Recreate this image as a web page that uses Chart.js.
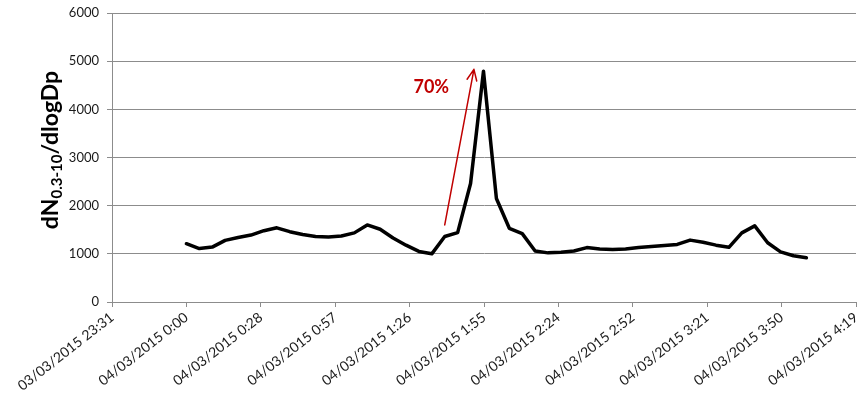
<!DOCTYPE html>
<html>
<head>
<meta charset="utf-8">
<script src="https://cdn.jsdelivr.net/npm/chart.js@4.4.1/dist/chart.umd.min.js"></script>
<style>
  html, body { margin: 0; padding: 0; background: #ffffff; }
  #wrap { width: 858px; height: 399px; }
  canvas { display: block; }
</style>
</head>
<body>
<div id="wrap"><canvas id="chart" width="858" height="399"></canvas></div>
<script>
// Sampling times (04/03/2015), one reading every 5 minutes
const sampleTimes = [
  '0:00','0:05','0:10','0:15','0:20','0:25','0:30','0:35','0:40','0:45',
  '0:50','0:55','1:00','1:05','1:10','1:15','1:20','1:25','1:30','1:35',
  '1:40','1:45','1:50','1:55','2:00','2:05','2:10','2:15','2:20','2:25',
  '2:30','2:35','2:40','2:45','2:50','2:55','3:00','3:05','3:10','3:15',
  '3:20','3:25','3:30','3:35','3:40','3:45','3:50','3:55','4:00'
];

// dN(0.3-10)/dlogDp at each sampling time
const concentration = [
  1210, 1110, 1140, 1280, 1340, 1390, 1480, 1540, 1460, 1400,
  1360, 1350, 1370, 1435, 1600, 1510, 1330, 1180, 1050, 1000,
  1360, 1440, 2460, 4790, 2150, 1530, 1420, 1060, 1020, 1035,
  1060, 1130, 1100, 1090, 1100, 1130, 1150, 1175, 1195, 1285,
  1240, 1180, 1135, 1435, 1580, 1230, 1040, 960, 920
];

// Date-axis labels, one every 0.02 day (28.8 min), starting 28.8 min before midnight
const tickLabels = [
  '03/03/2015 23:31', '04/03/2015 0:00', '04/03/2015 0:28', '04/03/2015 0:57',
  '04/03/2015 1:26', '04/03/2015 1:55', '04/03/2015 2:24', '04/03/2015 2:52',
  '04/03/2015 3:21', '04/03/2015 3:50', '04/03/2015 4:19'
];
const tickStepMinutes = 28.8;
const axisStartMinutes = -28.8;

const yTicks = [0, 1000, 2000, 3000, 4000, 5000, 6000];

// Rise annotation (minutes after midnight, concentration)
const riseArrowFrom = { t: 100, v: 1600 };
const riseArrowTo = { t: 111.3, v: 4830 };
const riseLabel = { t: 94.8, v: 4450, text: '70%' };

const toMinutes = s => { const [h, m] = s.split(':').map(Number); return h * 60 + m; };
const tickMinutes = tickLabels.map((_, i) => axisStartMinutes + i * tickStepMinutes);
const points = sampleTimes.map((t, i) => ({ x: toMinutes(t), y: concentration[i] }));

const FONT = 'Lato, "Open Sans", sans-serif';
const GRID = '#8c8c8c';
const TEXT = '#1a1a1a';

// Vertical axis title with a subscript part
const yTitlePlugin = {
  id: 'yTitle',
  afterDraw(chart) {
    const { ctx } = chart;
    const mainFont = 'bold 23px ' + FONT;
    const subFont = 'bold 15px ' + FONT;
    const parts = [
      { text: 'dN', font: mainFont, dy: 0 },
      { text: '0.3-10', font: subFont, dy: 6 },
      { text: '/dlogDp', font: mainFont, dy: 0 }
    ];
    ctx.save();
    let total = 0;
    parts.forEach(p => { ctx.font = p.font; p.w = ctx.measureText(p.text).width; total += p.w; });
    ctx.translate(51, 150);
    ctx.rotate(-Math.PI / 2);
    ctx.fillStyle = '#000';
    ctx.textBaseline = 'middle';
    ctx.textAlign = 'left';
    let x = -total / 2;
    parts.forEach(p => { ctx.font = p.font; ctx.fillText(p.text, x, p.dy); x += p.w; });
    ctx.restore();
  }
};

// Red arrow marking the rise to the peak, plus its percentage label
const riseArrowPlugin = {
  id: 'riseArrow',
  afterDatasetsDraw(chart) {
    const { ctx, scales: { x, y } } = chart;
    const x0 = x.getPixelForValue(riseArrowFrom.t), y0 = y.getPixelForValue(riseArrowFrom.v);
    const x1 = x.getPixelForValue(riseArrowTo.t), y1 = y.getPixelForValue(riseArrowTo.v);
    const ang = Math.atan2(y1 - y0, x1 - x0);
    const head = 12, spread = 0.42;
    ctx.save();
    ctx.strokeStyle = '#c00000';
    ctx.lineWidth = 1.5;
    ctx.lineCap = 'round';
    ctx.lineJoin = 'round';
    ctx.beginPath();
    ctx.moveTo(x0, y0);
    ctx.lineTo(x1, y1);
    ctx.moveTo(x1 - head * Math.cos(ang - spread), y1 - head * Math.sin(ang - spread));
    ctx.lineTo(x1, y1);
    ctx.lineTo(x1 - head * Math.cos(ang + spread), y1 - head * Math.sin(ang + spread));
    ctx.stroke();
    ctx.fillStyle = '#c00000';
    ctx.font = 'bold 18px ' + FONT;
    ctx.textAlign = 'center';
    ctx.textBaseline = 'middle';
    ctx.fillText(riseLabel.text, x.getPixelForValue(riseLabel.t), y.getPixelForValue(riseLabel.v));
    ctx.restore();
  }
};

function build() {
  new Chart(document.getElementById('chart'), {
    type: 'line',
    data: {
      datasets: [{
        data: points,
        borderColor: '#000000',
        borderWidth: 3.5,
        pointRadius: 0,
        tension: 0,
        borderJoinStyle: 'round',
        borderCapStyle: 'round',
        fill: false
      }]
    },
    options: {
      responsive: false,
      animation: false,
      devicePixelRatio: 1,
      layout: { padding: { top: 13, right: 2, left: 0, bottom: 0 } },
      plugins: { legend: { display: false }, tooltip: { enabled: false } },
      events: [],
      scales: {
        x: {
          type: 'linear',
          min: axisStartMinutes,
          max: tickMinutes[tickMinutes.length - 1],
          afterBuildTicks: s => { s.ticks = tickMinutes.map(v => ({ value: v })); },
          afterFit: s => { s.height = 97; s.paddingLeft = 0; s.paddingRight = 0; },
          grid: { display: true, drawOnChartArea: false, drawTicks: true, tickLength: 5, color: GRID },
          border: { display: true, color: GRID },
          ticks: {
            autoSkip: false,
            minRotation: 38,
            maxRotation: 38,
            padding: 2,
            color: TEXT,
            font: { family: FONT, size: 14 },
            callback: (v, i) => tickLabels[i]
          }
        },
        y: {
          min: 0,
          max: 6000,
          afterBuildTicks: s => { s.ticks = yTicks.map(v => ({ value: v })); },
          afterFit: s => { s.width = 112; s.paddingTop = 0; s.paddingBottom = 0; },
          grid: { color: GRID, tickLength: 5 },
          border: { display: true, color: GRID },
          ticks: {
            padding: 8,
            color: TEXT,
            font: { family: FONT, size: 13 },
            callback: v => String(v)
          }
        }
      }
    },
    plugins: [riseArrowPlugin, yTitlePlugin]
  });
}

if (document.fonts && document.fonts.load) {
  Promise.all([
    document.fonts.load('13px Lato'),
    document.fonts.load('bold 23px Lato')
  ]).then(build, build);
} else {
  build();
}
</script>
</body>
</html>
